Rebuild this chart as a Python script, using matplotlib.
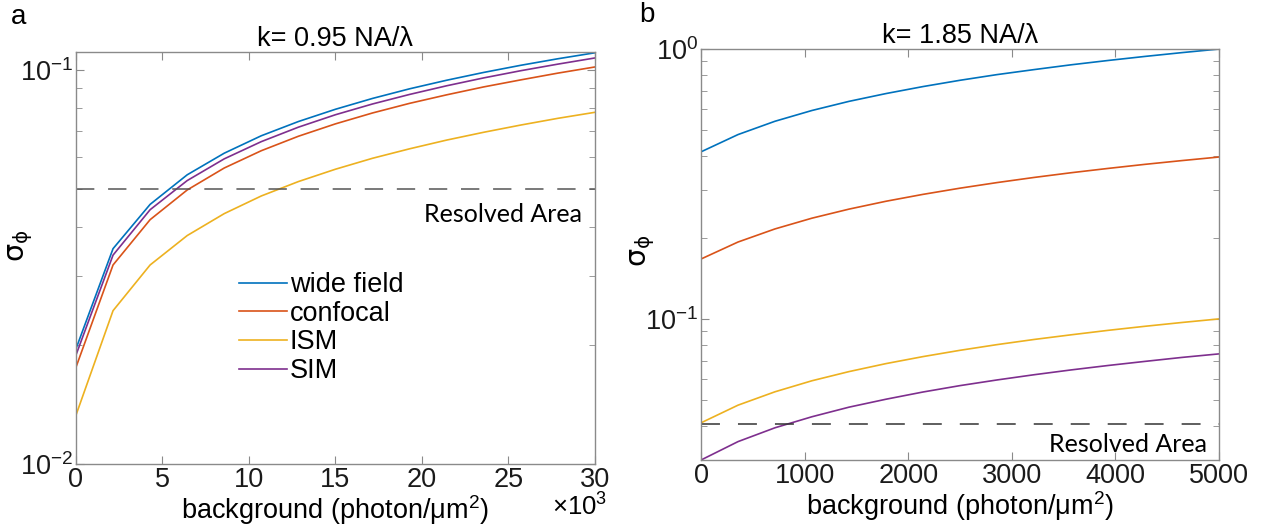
import math
import matplotlib
matplotlib.use("Agg")
import matplotlib.pyplot as plt
from matplotlib.ticker import FixedLocator, FuncFormatter, LogLocator, NullFormatter

plt.rcParams['font.family'] = ['Liberation Sans', 'DejaVu Sans']
plt.rcParams['mathtext.fontset'] = 'dejavusans'

# ------------------------------
# data
# ------------------------------
bg_a = [0, 2143, 4286, 6429, 8571, 10714, 12857, 15000, 17143, 19286,
        21429, 23571, 25714, 27857, 30000]
wide_a = [0.0196, 0.0352, 0.0456, 0.0542, 0.0615, 0.0681, 0.0740, 0.0795,
          0.0847, 0.0896, 0.0942, 0.0986, 0.1028, 0.1068, 0.1106]
conf_a = [0.0176, 0.0320, 0.0417, 0.0496, 0.0564, 0.0624, 0.0679, 0.0730,
          0.0778, 0.0823, 0.0865, 0.0906, 0.0944, 0.0982, 0.1018]
ism_a = [0.0133, 0.0245, 0.0320, 0.0380, 0.0432, 0.0479, 0.0521, 0.0560,
         0.0597, 0.0631, 0.0664, 0.0695, 0.0725, 0.0754, 0.0781]
sim_a = [0.0189, 0.0339, 0.0442, 0.0524, 0.0595, 0.0658, 0.0716, 0.0770,
         0.0820, 0.0867, 0.0912, 0.0955, 0.0996, 0.1035, 0.1073]

bg_b = [0, 357, 714, 1071, 1429, 1786, 2143, 2500, 2857, 3214,
        3571, 3929, 4286, 4643, 5000]
wide_b = [0.416, 0.482, 0.540, 0.592, 0.640, 0.684, 0.726, 0.766,
          0.804, 0.839, 0.874, 0.907, 0.939, 0.970, 1.000]
conf_b = [0.1667, 0.1927, 0.2155, 0.2362, 0.2552, 0.2729, 0.2894, 0.3051,
          0.3200, 0.3343, 0.3480, 0.3611, 0.3739, 0.3861, 0.3980]
ism_b = [0.0412, 0.0479, 0.0537, 0.0590, 0.0638, 0.0683, 0.0725, 0.0765,
         0.0803, 0.0839, 0.0873, 0.0907, 0.0939, 0.0970, 0.1000]
sim_b = [0.0300, 0.0351, 0.0395, 0.0434, 0.0471, 0.0504, 0.0536, 0.0566,
         0.0594, 0.0621, 0.0647, 0.0672, 0.0696, 0.0720, 0.0742]

labels = ['wide field', 'confocal', 'ISM', 'SIM']
colors = ['#0072BD', '#D95319', '#EDB120', '#7E2F8E']
resolved_a = 0.05
resolved_b = 0.0408

fig = plt.figure(figsize=(12.64, 5.29), dpi=100)
ax1 = fig.add_axes([0.0601, 0.1229, 0.4106, 0.7788])
ax2 = fig.add_axes([0.5546, 0.1304, 0.4098, 0.7769])

axcol = '#8a8a8a'
fs = 19.5
lab_font = ['Lato', 'DejaVu Sans']
ylab = r'$\mathrm{\sigma_{\phi}}$'


def style(ax):
    ax.set_yscale('log')
    for s in ax.spines.values():
        s.set_color(axcol)
        s.set_linewidth(1.0)
    ax.tick_params(which='both', direction='in', top=True, right=True,
                   colors=axcol, labelcolor='#1a1a1a', labelsize=fs)
    ax.tick_params(axis='x', pad=2)
    ax.tick_params(axis='y', pad=2)
    ax.tick_params(which='major', length=6)
    ax.tick_params(which='minor', length=4)
    ax.yaxis.set_minor_locator(LogLocator(base=10, subs=range(2, 10)))
    ax.yaxis.set_minor_formatter(NullFormatter())
    ax.yaxis.set_major_formatter(FuncFormatter(
        lambda v, p: r'$\mathregular{10^{%d}}$' % round(math.log10(v))))


# ------------------------------
# panel a
# ------------------------------
for ys, lab, c in zip([wide_a, conf_a, ism_a, sim_a], labels, colors):
    ax1.plot(bg_a, ys, color=c, lw=1.2, label=lab)
ax1.axhline(resolved_a, color='#555555', lw=1.1, dashes=(12, 9))
style(ax1)
ax1.set_xlim(0, 30000)
ax1.set_ylim(0.01, 0.1111)
ax1.xaxis.set_major_locator(FixedLocator([0, 5000, 10000, 15000, 20000, 25000, 30000]))
ax1.xaxis.set_major_formatter(FuncFormatter(lambda v, p: '%d' % (v / 1000)))
ax1.set_xlabel('background (photon/μm$^\\mathregular{2}$)', fontsize=fs, labelpad=0)
ax1.set_ylabel(ylab, fontsize=fs + 1)
ax1.yaxis.set_label_coords(-0.078, 0.53)
ax1.set_title('k= 0.95 NA/λ', fontsize=fs, pad=3)
ax1.text(0.975, 0.587, 'Resolved Area', transform=ax1.transAxes, ha='right',
         va='baseline', fontsize=18, family=lab_font)
ax1.text(0.971, -0.126, r'$\mathregular{\times10^{3}}$', transform=ax1.transAxes,
         ha='center', va='baseline', fontsize=18.5)
ax1.legend(loc='upper left', bbox_to_anchor=(0.314, 0.466), frameon=False,
           fontsize=fs, handlelength=1.78, handletextpad=0.1, labelspacing=0.1,
           borderpad=0, borderaxespad=0)

# ------------------------------
# panel b
# ------------------------------
for ys, lab, c in zip([wide_b, conf_b, ism_b, sim_b], labels, colors):
    ax2.plot(bg_b, ys, color=c, lw=1.2, label=lab)
ax2.axhline(resolved_b, color='#333333', lw=1.1, dashes=(12.4, 11.8))
style(ax2)
ax2.set_xlim(0, 5000)
ax2.set_ylim(0.03, 1.0)
ax2.xaxis.set_major_locator(FixedLocator([0, 1000, 2000, 3000, 4000, 5000]))
ax2.set_xlabel('background (photon/μm$^\\mathregular{2}$)', fontsize=fs, labelpad=0)
ax2.set_ylabel(ylab, fontsize=fs + 1)
ax2.yaxis.set_label_coords(-0.085, 0.51)
ax2.set_title('k= 1.85 NA/λ', fontsize=fs, pad=3)
ax2.text(0.977, 0.019, 'Resolved Area', transform=ax2.transAxes, ha='right',
         va='baseline', fontsize=18, family=lab_font)

fig.text(19 / 1264, 1 - 17 / 529, 'a', fontsize=20, ha='center', va='center')
fig.text(647 / 1264, 1 - 15 / 529, 'b', fontsize=20, ha='center', va='center')

fig.savefig('out.png', dpi=100)
